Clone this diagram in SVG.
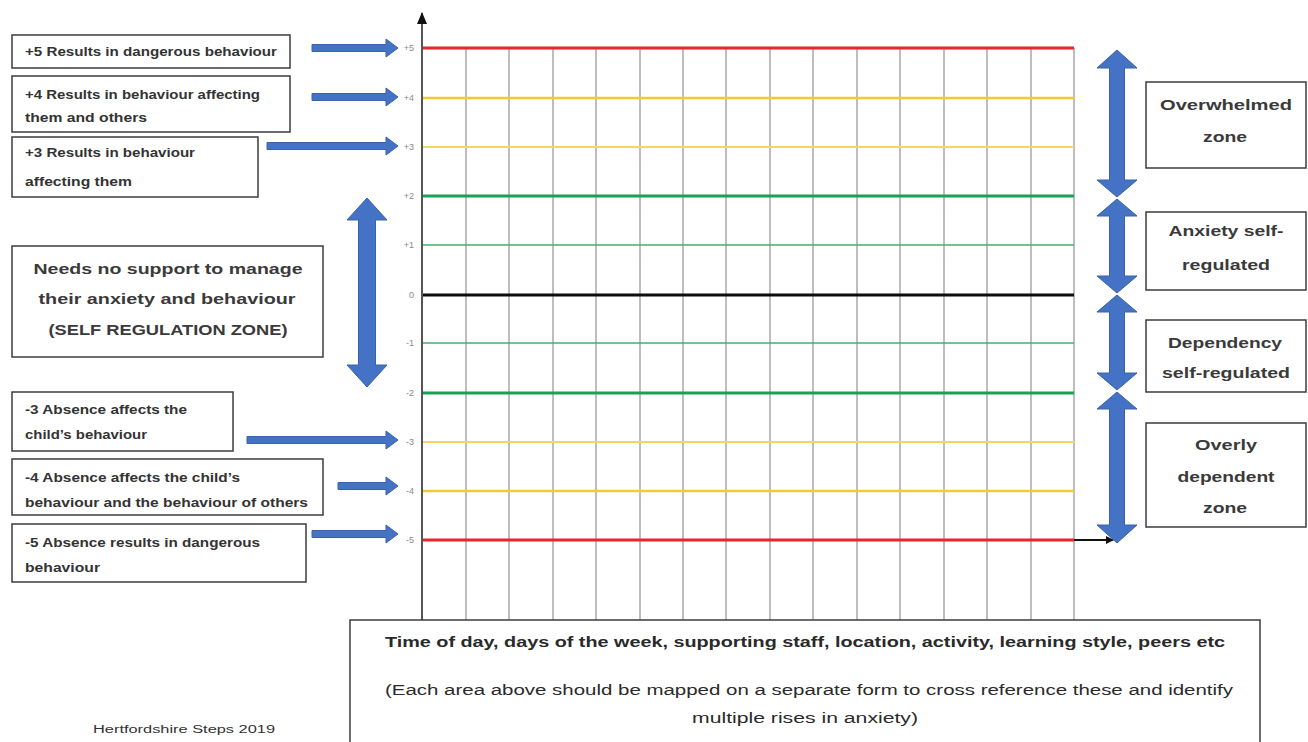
<svg xmlns="http://www.w3.org/2000/svg" width="1308" height="742" viewBox="0 0 1308 742">
<defs>
<style>
.box{fill:#fff;stroke:#3c3c3c;stroke-width:1.5}
.lt{font-family:"Liberation Sans",Arial,sans-serif;font-weight:bold;font-size:12px;fill:#333}
.mt{font-family:"Liberation Sans",Arial,sans-serif;font-weight:bold;font-size:15px;fill:#3a3a3a;text-anchor:middle}
.bt{font-family:"Liberation Sans",Arial,sans-serif;font-weight:bold;font-size:14px;fill:#2a2a2a;text-anchor:middle}
.bt2{font-family:"Liberation Sans",Arial,sans-serif;font-size:14px;fill:#2a2a2a;text-anchor:middle}
.tick{font-family:"Liberation Sans",Arial,sans-serif;font-size:9px;fill:#8a8a8a;text-anchor:end}
.grid{stroke:#a8a8a8;stroke-width:1.5}
.blue{fill:#4472c4;stroke:#3a62a8;stroke-width:1}
</style>
<marker id="ah" markerWidth="8" markerHeight="8" refX="7" refY="4" orient="auto" markerUnits="userSpaceOnUse">
<path d="M0,0 L8,4 L0,8 Z" fill="#111"/>
</marker>
<marker id="ahv" markerWidth="10" markerHeight="12" refX="5" refY="1" orient="0" markerUnits="userSpaceOnUse">
<path d="M0,12 L5,0 L10,12 Z" fill="#111"/>
</marker>
</defs>
<rect width="1308" height="742" fill="#fff"/>

<g id="chart">
<g id="gridlines">
<line class="grid" x1="466" y1="48" x2="466" y2="620"/>
<line class="grid" x1="509" y1="48" x2="509" y2="620"/>
<line class="grid" x1="553" y1="48" x2="553" y2="620"/>
<line class="grid" x1="596" y1="48" x2="596" y2="620"/>
<line class="grid" x1="640" y1="48" x2="640" y2="620"/>
<line class="grid" x1="683" y1="48" x2="683" y2="620"/>
<line class="grid" x1="726" y1="48" x2="726" y2="620"/>
<line class="grid" x1="770" y1="48" x2="770" y2="620"/>
<line class="grid" x1="813" y1="48" x2="813" y2="620"/>
<line class="grid" x1="857" y1="48" x2="857" y2="620"/>
<line class="grid" x1="900" y1="48" x2="900" y2="620"/>
<line class="grid" x1="944" y1="48" x2="944" y2="620"/>
<line class="grid" x1="987" y1="48" x2="987" y2="620"/>
<line class="grid" x1="1031" y1="48" x2="1031" y2="620"/>
<line class="grid" x1="1074" y1="48" x2="1074" y2="620"/>
</g>
<g id="levels">
<line x1="422" y1="540" x2="1113" y2="540" stroke="#111" stroke-width="2" marker-end="url(#ah)"/>
<line x1="422" y1="48" x2="1074" y2="48" stroke="#e8242c" stroke-width="3"/>
<line x1="422" y1="98" x2="1074" y2="98" stroke="#f0cc30" stroke-width="2.5"/>
<line x1="422" y1="147" x2="1074" y2="147" stroke="#f3d468" stroke-width="1.8"/>
<line x1="422" y1="196" x2="1074" y2="196" stroke="#16a452" stroke-width="3"/>
<line x1="422" y1="245" x2="1074" y2="245" stroke="#3fb06c" stroke-width="1.5"/>
<line x1="422" y1="295" x2="1074" y2="295" stroke="#0d0d0d" stroke-width="3"/>
<line x1="422" y1="343" x2="1074" y2="343" stroke="#3fb06c" stroke-width="1.5"/>
<line x1="422" y1="393" x2="1074" y2="393" stroke="#16a452" stroke-width="3"/>
<line x1="422" y1="442" x2="1074" y2="442" stroke="#f3d468" stroke-width="1.8"/>
<line x1="422" y1="491" x2="1074" y2="491" stroke="#f0cc30" stroke-width="2.5"/>
<line x1="422" y1="540" x2="1074" y2="540" stroke="#e8242c" stroke-width="3"/>
</g>
<line id="y-axis" x1="422" y1="620" x2="422" y2="13" stroke="#555" stroke-width="2" marker-end="url(#ahv)"/>
<g id="ticks">
<text class="tick" x="414" y="51">+5</text>
<text class="tick" x="414" y="101">+4</text>
<text class="tick" x="414" y="150">+3</text>
<text class="tick" x="414" y="199">+2</text>
<text class="tick" x="414" y="248">+1</text>
<text class="tick" x="414" y="298">0</text>
<text class="tick" x="414" y="346">-1</text>
<text class="tick" x="414" y="396">-2</text>
<text class="tick" x="414" y="445">-3</text>
<text class="tick" x="414" y="494">-4</text>
<text class="tick" x="414" y="543">-5</text>
</g>
</g>

<g id="connectors">
<path class="blue" d="M312,44.5 L386,44.5 L386,39 L398,48 L386,57 L386,51.5 L312,51.5 Z"/>
<path class="blue" d="M312,93.5 L386,93.5 L386,88 L398,97 L386,106 L386,100.5 L312,100.5 Z"/>
<path class="blue" d="M267,142.5 L386,142.5 L386,137 L398,146 L386,155 L386,149.5 L267,149.5 Z"/>
<path class="blue" d="M247,436.5 L386,436.5 L386,431 L398,440 L386,449 L386,443.5 L247,443.5 Z"/>
<path class="blue" d="M338,482.5 L386,482.5 L386,477 L398,486 L386,495 L386,489.5 L338,489.5 Z"/>
<path class="blue" d="M312,530.5 L386,530.5 L386,525 L398,534 L386,543 L386,537.5 L312,537.5 Z"/>
<path class="blue" d="M367,198 L387,220 L375.5,220 L375.5,365 L387,365 L367,387 L347,365 L358.5,365 L358.5,220 L347,220 Z"/>
<path class="blue" d="M1117,50 L1137,68 L1124.5,68 L1124.5,180 L1137,180 L1117,197 L1097,180 L1109.5,180 L1109.5,68 L1097,68 Z"/>
<path class="blue" d="M1117,199 L1137,216 L1124.5,216 L1124.5,276 L1137,276 L1117,293 L1097,276 L1109.5,276 L1109.5,216 L1097,216 Z"/>
<path class="blue" d="M1117,295 L1137,312 L1124.5,312 L1124.5,373 L1137,373 L1117,390 L1097,373 L1109.5,373 L1109.5,312 L1097,312 Z"/>
<path class="blue" d="M1117,392 L1137,409 L1124.5,409 L1124.5,525 L1137,525 L1117,543 L1097,525 L1109.5,525 L1109.5,409 L1097,409 Z"/>
</g>

<g id="box-p5">
<rect class="box" x="12" y="35" width="278" height="33"/>
<text class="lt" x="25" y="56" textLength="252" lengthAdjust="spacingAndGlyphs">+5 Results in dangerous behaviour</text>
</g>
<g id="box-p4">
<rect class="box" x="12" y="76" width="278" height="56"/>
<text class="lt" x="25" y="99" textLength="235" lengthAdjust="spacingAndGlyphs">+4 Results in behaviour affecting</text>
<text class="lt" x="25" y="122" textLength="122" lengthAdjust="spacingAndGlyphs">them and others</text>
</g>
<g id="box-p3">
<rect class="box" x="12" y="137" width="246" height="60"/>
<text class="lt" x="25" y="157" textLength="170" lengthAdjust="spacingAndGlyphs">+3 Results in behaviour</text>
<text class="lt" x="25" y="186" textLength="107" lengthAdjust="spacingAndGlyphs">affecting them</text>
</g>
<g id="box-self">
<rect class="box" x="12" y="246" width="311" height="111"/>
<text class="mt" x="168" y="274" textLength="269" lengthAdjust="spacingAndGlyphs">Needs no support to manage</text>
<text class="mt" x="167" y="304" textLength="257" lengthAdjust="spacingAndGlyphs">their anxiety and behaviour</text>
<text class="mt" x="168" y="335" textLength="239" lengthAdjust="spacingAndGlyphs">(SELF REGULATION ZONE)</text>
</g>
<g id="box-m3">
<rect class="box" x="12" y="392" width="221" height="59"/>
<text class="lt" x="25" y="414" textLength="162" lengthAdjust="spacingAndGlyphs">-3 Absence affects the</text>
<text class="lt" x="25" y="439" textLength="122" lengthAdjust="spacingAndGlyphs">child’s behaviour</text>
</g>
<g id="box-m4">
<rect class="box" x="12" y="459" width="311" height="56"/>
<text class="lt" x="25" y="482" textLength="215" lengthAdjust="spacingAndGlyphs">-4 Absence affects the child’s</text>
<text class="lt" x="25" y="507" textLength="283" lengthAdjust="spacingAndGlyphs">behaviour and the behaviour of others</text>
</g>
<g id="box-m5">
<rect class="box" x="12" y="524" width="294" height="58"/>
<text class="lt" x="25" y="547" textLength="235" lengthAdjust="spacingAndGlyphs">-5 Absence results in dangerous</text>
<text class="lt" x="25" y="572" textLength="75" lengthAdjust="spacingAndGlyphs">behaviour</text>
</g>

<g id="box-overwhelmed">
<rect class="box" x="1146" y="82" width="160" height="86"/>
<text class="mt" x="1226" y="110" textLength="132" lengthAdjust="spacingAndGlyphs">Overwhelmed</text>
<text class="mt" x="1225" y="142" textLength="44" lengthAdjust="spacingAndGlyphs">zone</text>
</g>
<g id="box-anxiety">
<rect class="box" x="1146" y="212" width="160" height="78"/>
<text class="mt" x="1226" y="236" textLength="115" lengthAdjust="spacingAndGlyphs">Anxiety self-</text>
<text class="mt" x="1226" y="270" textLength="88" lengthAdjust="spacingAndGlyphs">regulated</text>
</g>
<g id="box-dependency">
<rect class="box" x="1146" y="320" width="160" height="72"/>
<text class="mt" x="1225" y="348" textLength="114" lengthAdjust="spacingAndGlyphs">Dependency</text>
<text class="mt" x="1226" y="378" textLength="128" lengthAdjust="spacingAndGlyphs">self-regulated</text>
</g>
<g id="box-overly">
<rect class="box" x="1146" y="423" width="160" height="104"/>
<text class="mt" x="1226" y="450" textLength="62" lengthAdjust="spacingAndGlyphs">Overly</text>
<text class="mt" x="1226" y="482" textLength="97" lengthAdjust="spacingAndGlyphs">dependent</text>
<text class="mt" x="1225" y="513" textLength="44" lengthAdjust="spacingAndGlyphs">zone</text>
</g>

<g id="box-bottom">
<rect class="box" x="350" y="620" width="910" height="130"/>
<text class="bt" x="805" y="647" textLength="840" lengthAdjust="spacingAndGlyphs">Time of day, days of the week, supporting staff, location, activity, learning style, peers etc</text>
<text class="bt2" x="809" y="695" textLength="848" lengthAdjust="spacingAndGlyphs">(Each area above should be mapped on a separate form to cross reference these and identify</text>
<text class="bt2" x="805" y="723" textLength="226" lengthAdjust="spacingAndGlyphs">multiple rises in anxiety)</text>
</g>

<text id="credit" x="93" y="733" font-family="'Liberation Sans',Arial,sans-serif" font-size="10" fill="#333" textLength="182" lengthAdjust="spacingAndGlyphs">Hertfordshire Steps 2019</text>
</svg>
